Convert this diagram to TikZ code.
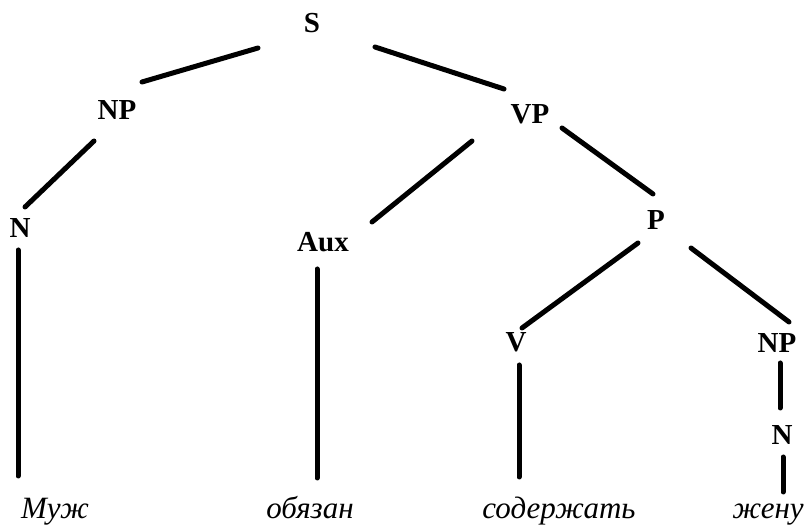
\documentclass[tikz,border=0pt]{standalone}
\usepackage{fontspec}
\setmainfont{Liberation Serif}
\usepackage{tikz}
\usetikzlibrary{calc}
\tikzstyle{catnode}=[inner sep=0pt, font=\fontsize{29}{31}\selectfont\bfseries]
\tikzstyle{wordnode}=[inner sep=0pt, anchor=base, font=\fontsize{31}{34}\selectfont\itshape]
\tikzstyle{branch}=[line width=5pt, line cap=round]

\begin{document}
\begin{tikzpicture}[x=1pt,y=-1pt]
\useasboundingbox (0,0) rectangle (807,526);
%Categories
\node[catnode] (s) at (312,23){S};
\node[catnode] (np1) at (117,110){NP};
\node[catnode] (vp) at (530,114){VP};
\node[catnode] (n1) at (20,228){N};
\node[catnode] (aux) at (323,242){Aux};
\node[catnode] (p) at (656,220){P};
\node[catnode] (v) at (516,342){V};
\node[catnode] (np2) at (777,343){NP};
\node[catnode] (n2) at (782,435){N};
%Words
\node[wordnode] (w1) at (55,519){Муж};
\node[wordnode] (w2) at (310,519){обязан};
\node[wordnode] (w3) at (559,519){содержать};
\node[wordnode] (w4) at (768,519){жену};
%Branches
\draw[branch] ([shift={(-54,25)}]s.center) -- ([shift={(25,-28)}]np1.center);
\draw[branch] ([shift={(63,24)}]s.center) -- ([shift={(-26,-25)}]vp.center);
\draw[branch] ([shift={(-23,31)}]np1.center) -- ([shift={(5,-21)}]n1.center);
\draw[branch] ([shift={(-58,27)}]vp.center) -- ([shift={(49,-20)}]aux.center);
\draw[branch] ([shift={(32,14)}]vp.center) -- ([shift={(-3,-26)}]p.center);
\draw[branch] ([shift={(-18,23)}]p.center) -- ([shift={(6,-14)}]v.center);
\draw[branch] ([shift={(35,28)}]p.center) -- ([shift={(12,-21)}]np2.center);
\draw[branch] ([shift={(-2,22)}]n1.center) -- ([shift={(-37,-43)}]w1.base);
\draw[branch] ([shift={(-6,27)}]aux.center) -- ([shift={(7,-41)}]w2.base);
\draw[branch] ([shift={(3,23)}]v.center) -- ([shift={(-40,-42)}]w3.base);
\draw[branch] ([shift={(3,20)}]np2.center) -- ([shift={(-2,-27)}]n2.center);
\draw[branch] ([shift={(1,22)}]n2.center) -- ([shift={(15,-27)}]w4.base);
\end{tikzpicture}
\end{document}
